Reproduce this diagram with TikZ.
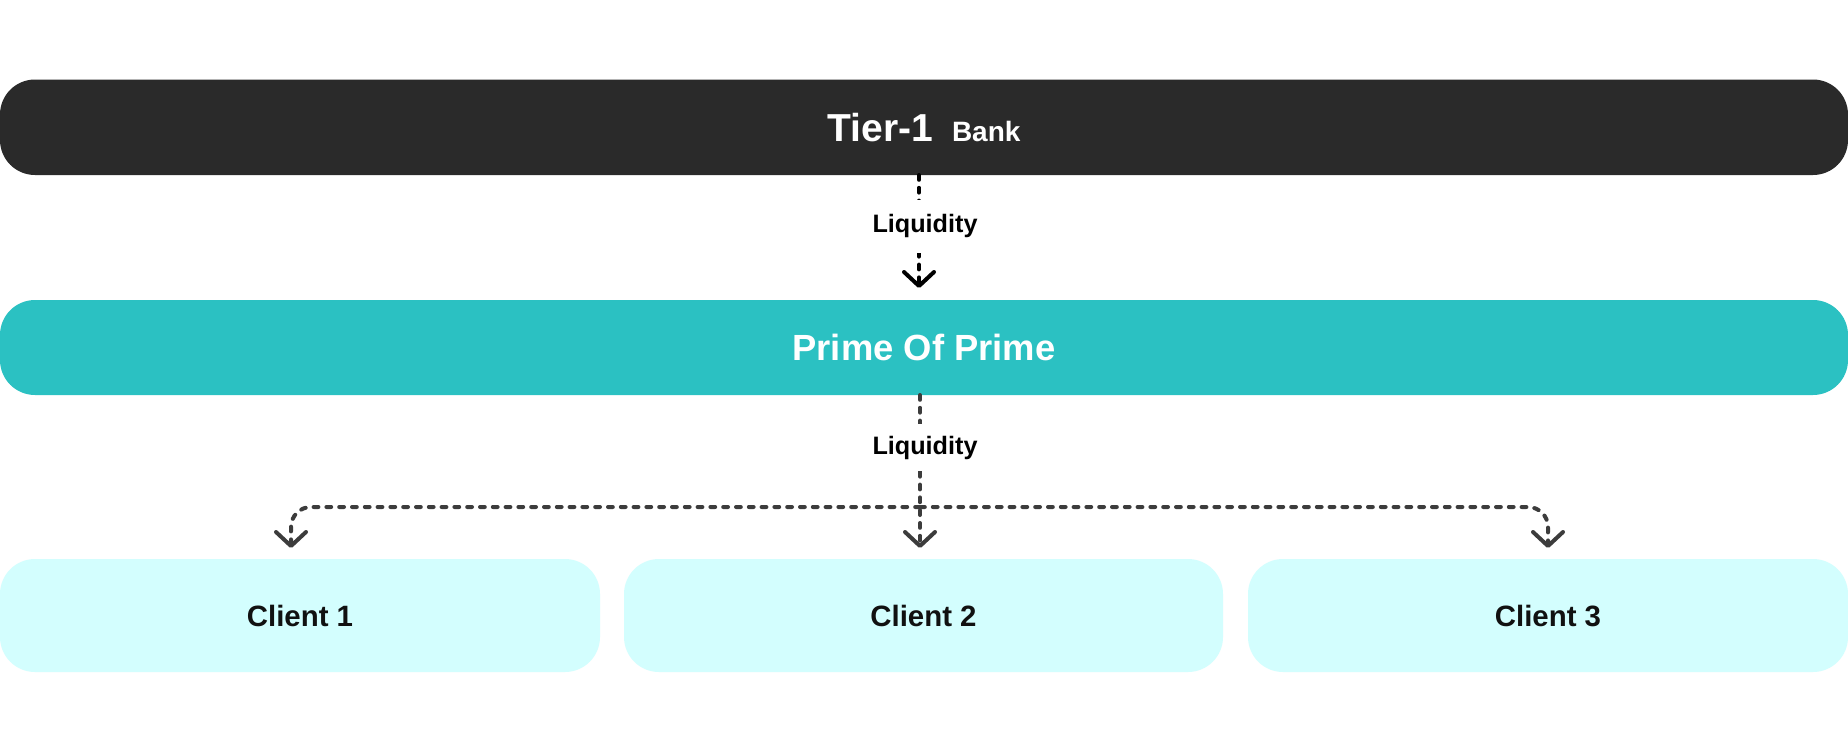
\documentclass[tikz,border=0pt]{standalone}
\usepackage{fontspec}
\setmainfont{Liberation Sans}
\usetikzlibrary{arrows.meta}
\definecolor{barblack}{HTML}{2A2A2A}
\definecolor{teal1}{HTML}{2BC1C2}
\definecolor{clientbg}{HTML}{D3FEFE}
\definecolor{linegray}{HTML}{3C3C3C}
\definecolor{txtdark}{HTML}{111111}
\begin{document}
\begin{tikzpicture}[x=0.5pt,y=-0.5pt,
  bar/.style={rectangle, rounded corners=17.5pt, inner sep=0pt, outer sep=0pt, font=\bfseries},
  clientbox/.style={bar, fill=clientbg, minimum width=300pt, minimum height=56.5pt, text=txtdark,
     text height=10.5pt, text depth=0pt, font=\bfseries\fontsize{14.7}{16}\selectfont},
  conn/.style={line width=2pt, line cap=round, dash pattern=on 2.4pt off 4pt,
     -{Straight Barb[length=7pt,width=15pt,line width=2pt,round]}},
  lbl/.style={fill=white, text=black, inner xsep=2pt, font=\bfseries\fontsize{12.6}{14}\selectfont}
]
\useasboundingbox[fill=white] (0,0) rectangle (1848,750);

\node[bar, fill=barblack, text=white, minimum width=924pt, minimum height=47.75pt,
  text height=14pt, text depth=0pt] (tier) at (924,127.25)
  {\fontsize{19.5}{22}\selectfont Tier-1\hspace{9.5pt}\fontsize{14}{16}\selectfont Bank};
\node[bar, fill=teal1, text=white, minimum width=924pt, minimum height=47.5pt,
  text height=13pt, text depth=0pt,
  font=\bfseries\fontsize{18.2}{20}\selectfont] (pop) at (924,347.5) {Prime Of Prime};

\node[clientbox] (c1) at (300,615.5) {Client 1};
\node[clientbox, minimum width=299.5pt] (c2) at (923.5,615.5) {Client 2};
\node[clientbox] (c3) at (1548,615.5) {Client 3};

\coordinate (split) at (920,507);

\draw[conn, draw=black, shorten >=6pt] ([xshift=-2.5pt]tier.south) --
  node[lbl, pos=0.41, inner ysep=7.5pt, xshift=3pt] {Liquidity} ([xshift=-2.5pt]pop.north);

\draw[conn, draw=linegray, rounded corners=10pt, shorten >=5.5pt] (split) -| ([xshift=-4.5pt]c1.north);
\draw[conn, draw=linegray, rounded corners=10pt, shorten >=5.5pt] (split) -| (c3.north);
\draw[conn, draw=linegray, shorten >=5.5pt] ([xshift=-2pt]pop.south) --
  node[lbl, pos=0.32, inner ysep=6pt, xshift=2.5pt] {Liquidity} ([xshift=-1.75pt]c2.north);
\end{tikzpicture}
\end{document}
